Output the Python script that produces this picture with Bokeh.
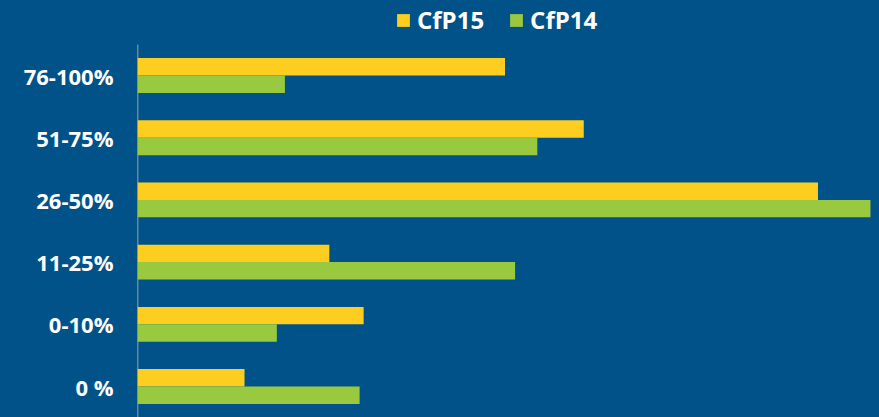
from bokeh.plotting import figure
from bokeh.models import Range1d, FixedTicker, Legend, LegendItem, ColumnDataSource
from bokeh.embed import file_html
from bokeh.resources import INLINE

categories = ["0 %", "0-10%", "11-25%", "26-50%", "51-75%", "76-100%"]
cfp15 = [5.3, 11.2, 9.5, 33.7, 22.1, 18.2]
cfp14 = [11.0, 6.9, 18.7, 36.3, 19.8, 7.3]
series_names = ["CfP15", "CfP14"]

BG = "#005288"
YELLOW = "#FDCD1F"
GREEN = "#99C93E"

pos = list(range(len(categories)))
bar_h = 0.28
src = ColumnDataSource(dict(
    y15=[i + bar_h / 2 for i in pos],
    y14=[i - bar_h / 2 for i in pos],
    v15=cfp15,
    v14=cfp14,
))

y_start = -0.498
p = figure(width=879, height=417, output_backend="svg", toolbar_location=None,
           x_range=Range1d(0, 36.35), y_range=Range1d(y_start, 6.206),
           min_border_left=137, min_border_right=8, min_border_top=0,
           min_border_bottom=0)
p.styles = {"background-color": BG}
p.background_fill_color = BG
p.border_fill_color = BG
p.outline_line_color = None

# category axis line (only over the category band)
p.segment(x0=[0], y0=[y_start], x1=[0], y1=[len(categories) - 0.5],
          line_color="#BFBFBF", line_width=1.5)

r15 = p.hbar(y="y15", right="v15", left=0, height=bar_h, source=src,
             fill_color=YELLOW, line_color=None)
r14 = p.hbar(y="y14", right="v14", left=0, height=bar_h, source=src,
             fill_color=GREEN, line_color=None)

p.xaxis.visible = False
p.xgrid.visible = False
p.ygrid.visible = False

ya = p.yaxis[0]
ya.ticker = FixedTicker(ticks=pos)
ya.major_label_overrides = {i: c for i, c in zip(pos, categories)}
ya.major_tick_line_color = None
ya.minor_tick_line_color = None
ya.axis_line_color = None
ya.major_label_standoff = 18
ya.major_label_text_color = "white"
ya.major_label_text_font = "Open Sans"
ya.major_label_text_font_style = "bold"
ya.major_label_text_font_size = "22px"

legend = Legend(items=[LegendItem(label=series_names[0], renderers=[r15]),
                       LegendItem(label=series_names[1], renderers=[r14])],
                orientation="horizontal", location=(258, 381))
legend.background_fill_alpha = 0
legend.border_line_color = None
legend.label_text_color = "white"
legend.label_text_font = "Open Sans"
legend.label_text_font_style = "bold"
legend.label_text_font_size = "24px"
legend.glyph_width = 16
legend.glyph_height = 16
legend.label_standoff = 6
legend.spacing = 24
legend.padding = 0
legend.margin = 0
p.add_layout(legend)

open("out.html", "w").write(file_html(p, INLINE))
